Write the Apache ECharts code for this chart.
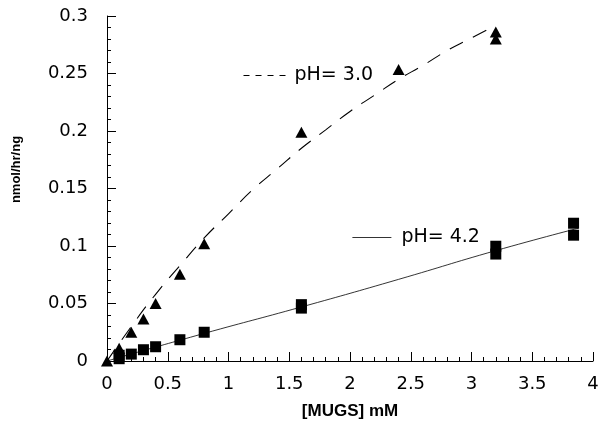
<!DOCTYPE html>
<html>
<head>
<meta charset="utf-8">
<script src="https://cdn.jsdelivr.net/npm/echarts@6/dist/echarts.min.js"></script>
<style>html,body{margin:0;padding:0;background:#fff}#c{width:603px;height:425px}</style>
</head>
<body>
<div id="c"></div>
<script>
// Measured points, pH = 3.0 (triangles)
const mugsX3 = [0, 0.1, 0.2, 0.3, 0.4, 0.6, 0.8, 1.6, 2.4, 3.2, 3.2];
const rate3  = [0, 0.011, 0.025, 0.0365, 0.050, 0.0755, 0.102, 0.199, 0.2535, 0.280, 0.286];
// Measured points, pH = 4.2 (squares)
const mugsX42 = [0.1, 0.1, 0.2, 0.3, 0.4, 0.6, 0.8, 1.6, 1.6, 3.2, 3.2, 3.84, 3.84];
const rate42  = [0.002, 0.005, 0.006, 0.0098, 0.0124, 0.0185, 0.025, 0.046, 0.049, 0.093, 0.0998, 0.1094, 0.1198];
// Fitted curves
const fitX3 = [0, 0.2, 0.4, 0.6, 0.8, 1.0, 1.2, 1.4, 1.6, 1.8, 2.0, 2.2, 2.4, 2.6, 2.8, 3.0, 3.2];
const fitY3 = [0, 0.030, 0.058, 0.083, 0.107, 0.128, 0.149, 0.167, 0.185, 0.201, 0.217, 0.231, 0.245, 0.257, 0.270, 0.281, 0.292];
const fitX42 = [0, 0.8, 1.6, 2.4, 3.2, 3.88];
const fitY42 = [0, 0.024, 0.047, 0.071, 0.096, 0.1155];
// Labels
const seriesNames = ['pH= 3.0', 'pH= 4.2'];
const xName = '[MUGS] mM';
const yName = 'nmol/hr/ng';

const zip = (a, b) => a.map((v, i) => [v, b[i]]);
const font = 'DejaVu Sans';

const chart = echarts.init(document.getElementById('c'), null, {renderer: 'canvas'});
chart.setOption({
  animation: false,
  backgroundColor: '#fff',
  grid: {left: 107, right: 10, top: 16, bottom: 63, containLabel: false},
  legend: [
    {
      data: [seriesNames[0]], left: 238, top: 61, itemWidth: 46, itemHeight: 14,
      lineStyle: {type: [6, 6], width: 1, color: '#000'},
      itemStyle: {opacity: 0},
      textStyle: {fontFamily: font, fontSize: 19, color: '#000'},
      selectedMode: false
    },
    {
      data: [seriesNames[1]], left: 347, top: 223, itemWidth: 39, itemHeight: 14,
      lineStyle: {width: 0.8, color: '#000'},
      itemStyle: {opacity: 0},
      textStyle: {fontFamily: font, fontSize: 19, color: '#000', padding: [0, 0, 0, 5]},
      selectedMode: false
    }
  ],
  xAxis: {
    type: 'value', min: 0, max: 4, interval: 0.5,
    name: xName, nameLocation: 'middle', nameGap: 42,
    nameTextStyle: {fontFamily: 'Liberation Sans', fontWeight: 'bold', fontSize: 17, color: '#000'},
    axisLine: {lineStyle: {color: '#000', width: 1}},
    axisTick: {inside: true, length: 9, lineStyle: {color: '#000'}},
    minorTick: {show: true, splitNumber: 5, length: 4, lineStyle: {color: '#000'}},
    axisLabel: {fontFamily: font, fontSize: 18, color: '#000', margin: 14},
    splitLine: {show: false}
  },
  yAxis: {
    type: 'value', min: 0, max: 0.3, interval: 0.05,
    name: yName, nameLocation: 'middle', nameGap: 84,
    nameTextStyle: {fontFamily: 'Liberation Sans', fontWeight: 'bold', fontSize: 13, color: '#000', padding: [0, 0, 0, 38]},
    axisLine: {show: true, lineStyle: {color: '#000', width: 1}},
    axisTick: {show: true, inside: true, length: 9, lineStyle: {color: '#000'}},
    minorTick: {show: true, splitNumber: 5, length: 4, lineStyle: {color: '#000'}},
    axisLabel: {fontFamily: font, fontSize: 18, color: '#000', margin: 19},
    splitLine: {show: false}
  },
  series: [
    {
      name: seriesNames[0], type: 'line', data: zip(fitX3, fitY3), smooth: true,
      symbol: 'none', lineStyle: {color: '#000', width: 1.1, type: [15, 11]}, itemStyle: {color: '#000'}, z: 2
    },
    {
      name: seriesNames[1], type: 'line', data: zip(fitX42, fitY42), smooth: true,
      symbol: 'none', lineStyle: {color: '#000', width: 0.8}, itemStyle: {color: '#000'}, z: 2
    },
    {
      name: 'pts3', type: 'scatter', data: zip(mugsX3, rate3), symbol: 'triangle', symbolSize: [12, 11],
      itemStyle: {color: '#000', opacity: 1}, z: 3
    },
    {
      name: 'pts42', type: 'scatter', data: zip(mugsX42, rate42), symbol: 'rect', symbolSize: [11, 11],
      itemStyle: {color: '#000', opacity: 1}, z: 3
    }
  ]
});
</script>
</body>
</html>
